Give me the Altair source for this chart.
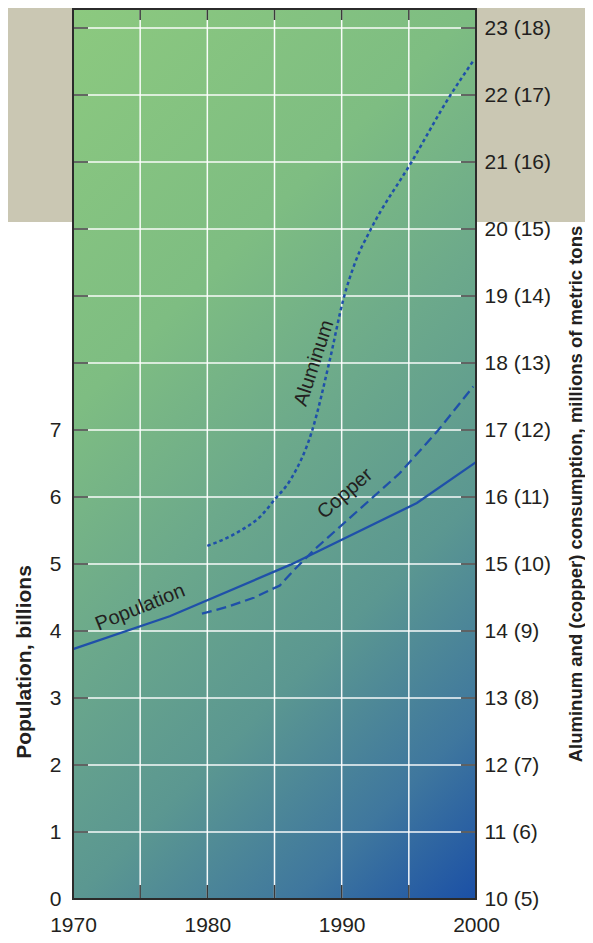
import altair as alt
import pandas as pd

# ---------------- data ----------------
x_label_years = [1970, 1980, 1990, 2000]
grid_years = [1975, 1980, 1985, 1990, 1995]
pop_ticks = [0, 1, 2, 3, 4, 5, 6, 7]
grid_levels = [1, 2, 3, 4, 5, 6, 7, 8, 9, 10, 11, 12, 13]
al_ticks = [10, 11, 12, 13, 14, 15, 16, 17, 18, 19, 20, 21, 22, 23]

# Population, billions
pop_years = [1970, 1977.2, 1986.2, 1995.6, 2000]
pop_vals = [3.73, 4.22, 4.99, 5.91, 6.52]

# Copper consumption, millions of metric tons
cu_years = [1979.6, 1981.5, 1983.5, 1985.4, 1986.5, 1988.0, 1994.3, 1997.2, 1999.8]
cu_vals = [9.26, 9.36, 9.50, 9.68, 9.92, 10.22, 11.35, 12.0, 12.65]

# Aluminum consumption, millions of metric tons
al_years = [1980.0, 1982.4, 1984.0, 1985.0, 1986.2, 1987.8, 1989.1, 1990.1,
            1991.1, 1992.1, 1995.2, 1998.1, 1999.8]
al_vals = [15.27, 15.49, 15.72, 15.96, 16.26, 16.99, 18.03, 18.93,
           19.55, 19.97, 21.0, 22.0, 22.51]

# ---------------- style ----------------
W, H = 403, 890
UNIT = 67.0
Y_SPAN = H / UNIT
FONT = "Liberation Sans"
TXT = "#231f20"
LINE = "#1f50a9"
TICK = "#3a3a3a"
BEIGE = "#cac7b3"
FS = 21

x_scale = alt.Scale(domain=[1970, 2000], nice=False, zero=False)
pop_scale = alt.Scale(domain=[0, Y_SPAN], nice=False, zero=False)
al_scale = alt.Scale(domain=[10, 10 + Y_SPAN], nice=False, zero=False)
cu_scale = alt.Scale(domain=[5, 5 + Y_SPAN], nice=False, zero=False)

x_axis = alt.Axis(values=x_label_years, format="d", ticks=False, tickSize=0,
                  domain=False, grid=False, labelPadding=15, labelFontSize=FS,
                  labelColor=TXT, labelFont=FONT, title=None, zindex=1,
                  labelFlush=False, labelOverlap=False)
x_enc = alt.X("year:Q", scale=x_scale, axis=x_axis)

pop_df = pd.DataFrame({"year": pop_years, "v": pop_vals})
cu_df = pd.DataFrame({"year": cu_years, "v": cu_vals})
al_df = pd.DataFrame({"year": al_years, "v": al_vals})
one = pd.DataFrame({"t": [""]})

beige = alt.Chart(one).mark_rect(color=BEIGE).encode(
    x=alt.value(-65), x2=alt.value(W + 109), y=alt.value(-1), y2=alt.value(213))

grad = alt.Gradient(
    gradient="linear",
    stops=[
        alt.GradientStop(color="#8cc97f", offset=0),
        alt.GradientStop(color="#7ebd82", offset=0.31),
        alt.GradientStop(color="#6ca98b", offset=0.5),
        alt.GradientStop(color="#5b9791", offset=0.69),
        alt.GradientStop(color="#3f779e", offset=0.86),
        alt.GradientStop(color="#1b50a6", offset=1),
    ],
    x1=0, y1=0, x2=0.5465, y2=1.2056,
)
bg = alt.Chart(one).mark_rect(color=grad).encode(
    x=alt.value(0), x2=alt.value(W), y=alt.value(0), y2=alt.value(H))

vgrid = alt.Chart(pd.DataFrame({"year": grid_years})).mark_rule(
    color="white", strokeWidth=1.5, opacity=0.95).encode(
    x=x_enc, y=alt.value(-1), y2=alt.value(H))
hgrid = alt.Chart(pd.DataFrame({"v": grid_levels})).mark_rule(
    color="white", strokeWidth=1.5, opacity=0.95).encode(
    y=alt.Y("v:Q", scale=pop_scale, axis=None), x=alt.value(0), x2=alt.value(W))

ltick = alt.Chart(pd.DataFrame({"v": grid_levels})).mark_rule(
    color=TICK, strokeWidth=1.5).encode(
    y=alt.Y("v:Q", scale=pop_scale, axis=None), x=alt.value(0), x2=alt.value(15))
rtick = alt.Chart(pd.DataFrame({"v": grid_levels})).mark_rule(
    color=TICK, strokeWidth=1.5).encode(
    y=alt.Y("v:Q", scale=pop_scale, axis=None), x=alt.value(W - 15), x2=alt.value(W))
ttick = alt.Chart(pd.DataFrame({"year": grid_years})).mark_rule(
    color=TICK, strokeWidth=1.5).encode(
    x=x_enc, y=alt.value(0), y2=alt.value(11))
btick = alt.Chart(pd.DataFrame({"year": grid_years})).mark_rule(
    color=TICK, strokeWidth=1.5).encode(
    x=x_enc, y=alt.value(H - 14), y2=alt.value(H))

pop_line = alt.Chart(pop_df).mark_line(color=LINE, strokeWidth=2.3).encode(
    x=x_enc,
    y=alt.Y("v:Q", scale=pop_scale,
            axis=alt.Axis(orient="left", values=pop_ticks, format="d", ticks=False,
                          tickSize=0, domain=False, grid=False, labelPadding=12,
                          labelFontSize=FS, labelColor=TXT, labelFont=FONT,
                          title=None, zindex=1, labelFlush=False, labelOverlap=False)))

cu_line = alt.Chart(cu_df).mark_line(color=LINE, strokeWidth=2.3,
                                     strokeDash=[10, 5]).encode(
    x=x_enc, y=alt.Y("v:Q", scale=cu_scale, axis=None))

al_line = alt.Chart(al_df).mark_line(color=LINE, strokeWidth=2.5, strokeDash=[3.5, 3],
                                     interpolate="monotone").encode(
    x=x_enc,
    y=alt.Y("v:Q", scale=al_scale,
            axis=alt.Axis(orient="right", values=al_ticks, ticks=False, tickSize=0,
                          domain=False, grid=False, labelPadding=8,
                          labelExpr="datum.value + ' (' + (datum.value - 5) + ')'",
                          labelFontSize=FS, labelColor=TXT, labelFont=FONT,
                          title=None, zindex=1, labelFlush=False, labelOverlap=False)))

pop_lab = alt.Chart(pd.DataFrame({"year": [1975.0], "v": [4.35], "t": ["Population"]})).mark_text(
    angle=338, font=FONT, fontSize=20, color=TXT, align="center", baseline="middle").encode(
    x=x_enc, y=alt.Y("v:Q", scale=pop_scale, axis=None), text="t:N")
cu_lab = alt.Chart(pd.DataFrame({"year": [1990.25], "v": [11.05], "t": ["Copper"]})).mark_text(
    angle=319, font=FONT, fontSize=20, color=TXT, align="center", baseline="middle").encode(
    x=x_enc, y=alt.Y("v:Q", scale=cu_scale, axis=None), text="t:N")
al_lab = alt.Chart(pd.DataFrame({"year": [1987.95], "v": [18.0], "t": ["Aluminum"]})).mark_text(
    angle=288, font=FONT, fontSize=20, color=TXT, align="center", baseline="middle").encode(
    x=x_enc, y=alt.Y("v:Q", scale=al_scale, axis=None), text="t:N")

frame = alt.Chart(one).mark_rect(filled=False, stroke="#2b2b2b", strokeWidth=2).encode(
    x=alt.value(0), x2=alt.value(W), y=alt.value(0), y2=alt.value(H))

ltitle = alt.Chart(pd.DataFrame({"t": ["Population, billions"]})).mark_text(
    angle=270, font=FONT, fontSize=FS, fontWeight="bold", color=TXT,
    align="center", baseline="middle").encode(
    x=alt.value(-48), y=alt.value(653), text="t:N")
rtitle = alt.Chart(pd.DataFrame({"t": ["Aluminum and (copper) consumption, millions of metric tons"]})).mark_text(
    angle=270, font=FONT, fontSize=18.5, fontWeight="bold", color=TXT,
    align="center", baseline="middle").encode(
    x=alt.value(503), y=alt.value(485), text="t:N")

chart = alt.layer(
    beige, bg, vgrid, hgrid, ltick, rtick, ttick, btick,
    pop_line, cu_line, al_line, pop_lab, cu_lab, al_lab, frame, ltitle, rtitle,
).resolve_scale(y="independent").properties(
    width=W, height=H,
    autosize=alt.AutoSizeParams(type="none"),
    padding={"left": 65, "top": 1, "right": 109, "bottom": 36},
    background="white",
).configure_view(stroke=None)

chart.save("out.html", embed_options={"renderer": "svg", "actions": False})
